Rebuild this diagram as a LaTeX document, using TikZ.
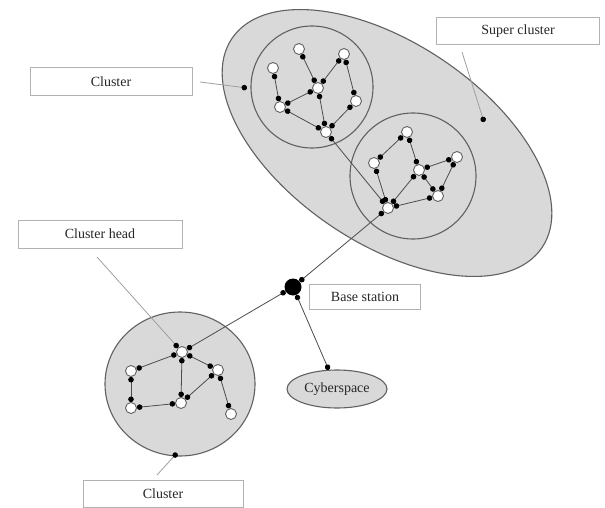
\documentclass[tikz,border=0pt]{standalone}
\usepackage{fontspec}
\setmainfont{Liberation Serif}
\usetikzlibrary{arrows.meta,shapes.geometric}
\definecolor{zone}{gray}{0.85}
\definecolor{rim}{gray}{0.38}
\definecolor{wire}{gray}{0.3}
\tikzset{
  area/.style={draw=rim, line width=1.1pt, fill=zone, inner sep=0pt},
  snode/.style={circle, draw=rim, line width=0.9pt, fill=white, minimum size=11pt, inner sep=0pt},
  link/.style={draw=wire, line width=0.8pt, {Circle[length=5.5pt,color=black]}-{Circle[length=5.5pt,color=black]}},
  halflink/.style={draw=gray!75, line width=0.8pt, -{Circle[length=5.5pt,color=black]}},
  labelbox/.style={draw=gray!60, line width=1pt, fill=white, inner sep=0pt, font=\fontsize{14}{16}\selectfont, text=black!85},
}
\begin{document}
\begin{tikzpicture}[x=1pt,y=-1pt]
\useasboundingbox (0,0) rectangle (605,508);
% areas
\node[area, ellipse, minimum width=374pt, minimum height=200pt, rotate=-34] (super) at (387,143) {};
\node[area, circle, minimum size=122pt] (cl1) at (312,87) {};
\node[area, circle, minimum size=126pt] (cl2) at (413,176) {};
\node[area, ellipse, minimum width=150pt, minimum height=144pt] (cl3) at (180,384) {};
\node[area, ellipse, minimum width=100pt, minimum height=38pt, font=\fontsize{14}{16}\selectfont, text=black!85] (cyber) at (337,389) {Cyberspace};
% base station
\node[circle, fill=black, minimum size=17pt, inner sep=0pt] (bs) at (293,287) {};
% cluster 1 nodes
\node[snode] (A) at (299,49) {};
\node[snode] (B) at (344,54) {};
\node[snode] (C) at (273,68) {};
\node[snode] (D) at (318,88) {};
\node[snode] (E) at (356,101) {};
\node[snode] (F) at (280,107) {};
\node[snode] (G) at (326,132) {};
% cluster 2 nodes
\node[snode] (H) at (407,132) {};
\node[snode] (I) at (374,163) {};
\node[snode] (J) at (457,157) {};
\node[snode] (K) at (419,170) {};
\node[snode] (L) at (438,196) {};
\node[snode] (M) at (388,208) {};
% bottom cluster nodes
\node[snode] (N) at (182,352) {};
\node[snode] (O) at (131,371) {};
\node[snode] (P) at (218,370) {};
\node[snode] (Q) at (181,403) {};
\node[snode] (R) at (131,408) {};
\node[snode] (S) at (231,414) {};
% edges cluster 1
\draw[link] (A) -- (D);
\draw[link] (B) -- (D);
\draw[link] (B) -- (E);
\draw[link] (C) -- (F);
\draw[link] (D) -- (F);
\draw[link] (D) -- (G);
\draw[link] (F) -- (G);
\draw[link] (E) -- (G);
\draw[link] (G) -- (M);
% edges cluster 2
\draw[link] (H) -- (I);
\draw[link] (H) -- (K);
\draw[link] (I) -- (M);
\draw[link] (K) -- (J);
\draw[link] (J) -- (L);
\draw[link] (K) -- (L);
\draw[link] (K) -- (M);
\draw[link] (L) -- (M);
% edges bottom cluster
\draw[link] (O) -- (N);
\draw[link] (O) -- (R);
\draw[link] (R) -- (Q);
\draw[link] (Q) -- (N);
\draw[link] (N) -- (P);
\draw[link] (P) -- (Q);
\draw[link] (P) -- (S);
% base station links
\draw[link] (N) -- (bs);
\draw[link] (bs) -- (M);
\draw[link] (bs) -- (cyber);
% label boxes
\node[labelbox, minimum width=162pt, minimum height=28pt] (lcl1) at (111,82) {Cluster};
\node[labelbox, minimum width=163pt, minimum height=27pt] (lsuper) at (518,31) {Super cluster};
\node[labelbox, minimum width=164pt, minimum height=28pt] (lhead) at (100,234) {Cluster head};
\node[labelbox, minimum width=111pt, minimum height=25pt] (lbs) at (365,297) {Base station};
\node[labelbox, minimum width=160pt, minimum height=27pt] (lcl3) at (163,494) {Cluster};
% label pointers
\coordinate (p1) at (200,82);
\coordinate (p1e) at (247,88);
\coordinate (p2) at (462,52);
\coordinate (p2e) at (484,122);
\coordinate (p3) at (97,257);
\coordinate (p4) at (157,475);
\coordinate (p4e) at (177,453);
\draw[halflink] (p1) -- (p1e);
\draw[halflink] (p2) -- (p2e);
\draw[halflink] (p3) -- (N);
\draw[halflink] (p4) -- (p4e);
\end{tikzpicture}
\end{document}
